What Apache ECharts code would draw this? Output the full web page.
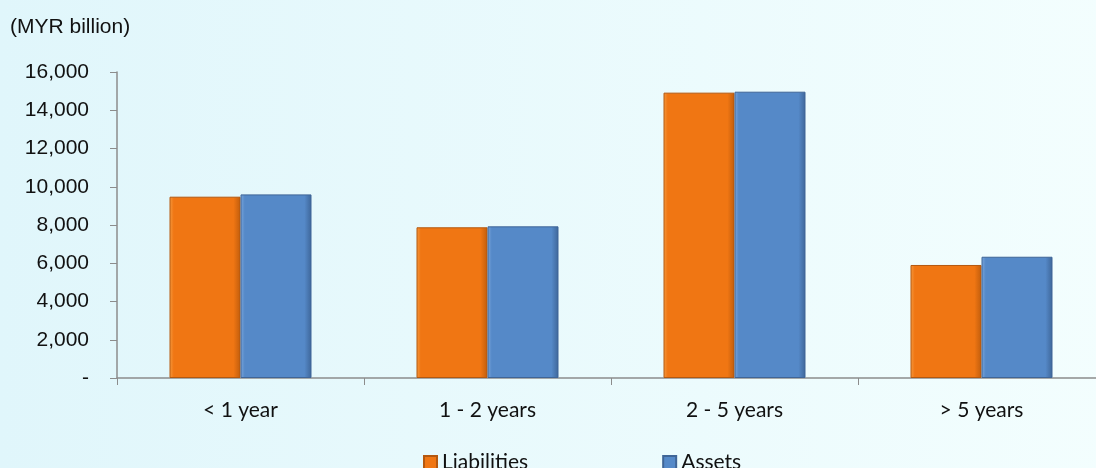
<!DOCTYPE html>
<html>
<head>
<meta charset="utf-8">
<script src="https://cdn.jsdelivr.net/npm/echarts@6/dist/echarts.min.js"></script>
<style>html,body{margin:0;padding:0;background:#e8fafc;overflow:hidden;width:1096px;height:468px;}#c{width:1112px;height:468px;}</style>
</head>
<body>
<div id="c"></div>
<script>
const categories = ['< 1 year', '1 - 2 years', '2 - 5 years', '> 5 years'];
const liabilities = [9480, 7880, 14920, 5910];
const assets = [9600, 7930, 14970, 6340];
const yTicks = [0, 2000, 4000, 6000, 8000, 10000, 12000, 14000, 16000];

const chart = echarts.init(document.getElementById('c'));
function grad(top, mid, bot) {
  return new echarts.graphic.LinearGradient(0, 0, 1, 0, [
    {offset: 0, color: top}, {offset: 0.06, color: mid}, {offset: 0.9, color: mid}, {offset: 1, color: bot}
  ]);
}
chart.setOption({
  backgroundColor: new echarts.graphic.LinearGradient(0, 0, 1, 0, [
    {offset: 0, color: '#e0f6fb'}, {offset: 1, color: '#f3fefe'}
  ]),
  animation: false,
  title: {
    text: '(MYR billion)', left: 5, top: 10,
    textStyle: {fontFamily: 'Liberation Sans, Arial', fontSize: 21, fontWeight: 'normal', color: '#111', lineHeight: 24}
  },
  legend: {
    data: ['Liabilities', 'Assets'], top: 447, left: 418, itemGap: 134,
    icon: 'rect', itemWidth: 13, itemHeight: 13,
    textStyle: {fontFamily: 'Lato, Open Sans', fontSize: 21, lineHeight: 21, color: '#111'}
  },
  grid: {left: 117, top: 72, width: 988, height: 306, containLabel: false},
  xAxis: {
    type: 'category', data: categories,
    axisLine: {lineStyle: {color: '#8c8c8c', width: 1.5}},
    axisTick: {show: true, length: 7, lineStyle: {color: '#8c8c8c'}},
    axisLabel: {margin: 22, fontFamily: 'Lato, Open Sans', fontSize: 21, color: '#111'}
  },
  yAxis: {
    type: 'value', min: 0, max: 16000, interval: 2000,
    axisLine: {show: true, lineStyle: {color: '#8c8c8c', width: 1.5}},
    axisTick: {show: true, length: 7, lineStyle: {color: '#8c8c8c'}},
    splitLine: {show: false},
    axisLabel: {
      margin: 28, fontFamily: 'Liberation Sans, Arial', fontSize: 21, color: '#111',
      formatter: v => yTicks.includes(v) ? (v === 0 ? '-' : v.toLocaleString('en-US')) : ''
    }
  },
  series: [
    {
      name: 'Liabilities', type: 'bar', data: liabilities, barWidth: 71, barGap: '0%',
      itemStyle: {color: grad('#f59a40', '#f07613', '#c05d0d'), borderColor: '#b4580f', borderWidth: 1},
    },
    {
      name: 'Assets', type: 'bar', data: assets, barWidth: 71,
      itemStyle: {color: grad('#7aa6dc', '#5589c8', '#3e6699'), borderColor: '#3f6597', borderWidth: 1},
    }
  ]
});
</script>
</body>
</html>
